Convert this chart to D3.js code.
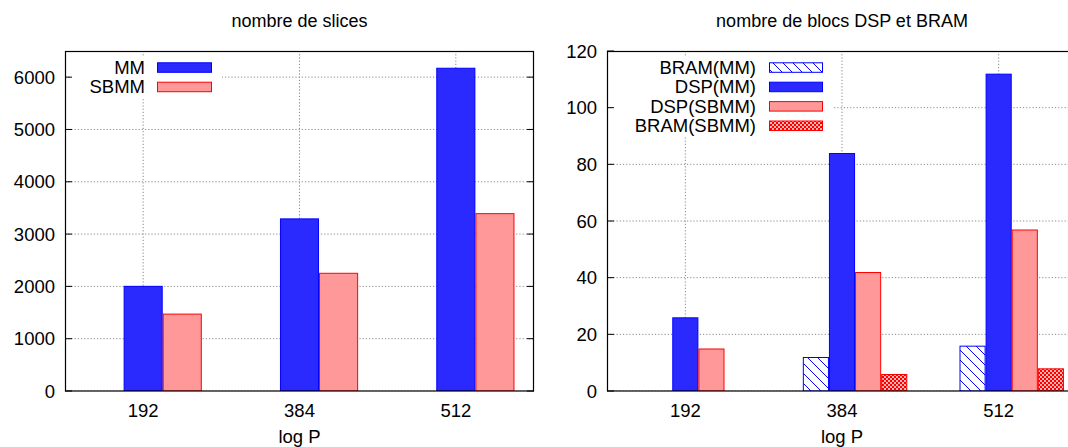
<!DOCTYPE html>
<html><head><meta charset="utf-8">
<script src="https://cdn.jsdelivr.net/npm/d3@7"></script>
<style>
html,body{margin:0;padding:0;background:#fff;}
svg{display:block;font-family:"Liberation Sans",Arial,Helvetica,sans-serif;}
</style></head>
<body>
<svg id="chart" width="1068" height="447"></svg>
<script>
// ---------- data ----------
const categories = ["192", "384", "512"];
const slicesMM = [2010, 3300, 6180];
const slicesSBMM = [1480, 2260, 3400];
const bramMM = [0, 12, 16];
const dspMM = [26, 84, 112];
const dspSBMM = [15, 42, 57];
const bramSBMM = [0, 6, 8];
const leftTicks = [0, 1000, 2000, 3000, 4000, 5000, 6000];
const rightTicks = [0, 20, 40, 60, 80, 100, 120];
const leftTitle = "nombre de slices";
const rightTitle = "nombre de blocs DSP et BRAM";
const xLabel = "log P";

// ---------- drawing ----------
const svg = d3.select("#chart");
const defs = svg.append("defs");
const hatch = defs.append("pattern").attr("id","hatchBlue").attr("patternUnits","userSpaceOnUse")
  .attr("width",10).attr("height",10);
hatch.append("rect").attr("width",10).attr("height",10).attr("fill","#fff");
hatch.append("path").attr("d","M0,0L10,10M-2,8L2,12M8,-2L12,2").attr("stroke","#0000ff").attr("stroke-width",1);
const cross = defs.append("pattern").attr("id","crossRed").attr("patternUnits","userSpaceOnUse")
  .attr("width",4).attr("height",4);
cross.append("rect").attr("width",4).attr("height",4).attr("fill","#ff0000");
cross.append("circle").attr("cx",1).attr("cy",1).attr("r",0.95).attr("fill","#fff");
cross.append("circle").attr("cx",3).attr("cy",3).attr("r",0.95).attr("fill","#fff");

const FS = 18.5;
const blueFill = "#2a2aff", blueStroke = "#0000ff";
const pinkFill = "#ff9999", redStroke = "#ff0000";

function panel(cfg) {
  const x = d3.scaleLinear().domain([-0.5, 2.5]).range([cfg.x0, cfg.x1]);
  const y = d3.scaleLinear().domain(cfg.yDomain).range([391, 51]);
  const g = svg.append("g");
  const clipId = "clip" + cfg.id;
  defs.append("clipPath").attr("id", clipId).append("rect")
    .attr("x", cfg.x0).attr("y", 51).attr("width", cfg.x1 - cfg.x0).attr("height", 340);
  const inner = g.append("g").attr("clip-path", `url(#${clipId})`);

  // grid
  inner.selectAll(".hg").data(cfg.ticks).join("line")
    .attr("x1", cfg.x0).attr("x2", cfg.x1).attr("y1", d => y(d)).attr("y2", d => y(d))
    .attr("stroke", "#8a8a8a").attr("stroke-width", 1).attr("stroke-dasharray", "1.2,2");
  inner.selectAll(".vg").data(categories).join("line")
    .attr("x1", (d,i) => x(i)).attr("x2", (d,i) => x(i)).attr("y1", 51).attr("y2", 391)
    .attr("stroke", "#8a8a8a").attr("stroke-width", 1).attr("stroke-dasharray", "1.2,2");

  // bars
  cfg.series.forEach(s => {
    inner.selectAll(null).data(s.values).join("rect")
      .attr("x", (d,i) => x(i + (s.offset - 0.5) * cfg.bw) + 0.5)
      .attr("width", x(cfg.bw) - x(0) - 1)
      .attr("y", d => y(d) + 0.5)
      .attr("height", d => Math.max(0, y(0) - y(d) - 0.5))
      .attr("fill", s.fill).attr("stroke", s.stroke).attr("stroke-width", 1)
      .style("display", d => d > 0 ? null : "none");
  });

  // legend (opaque key)
  const L = cfg.legend;
  inner.append("rect").attr("x", L.bx0).attr("y", L.by0).attr("width", L.bx1 - L.bx0)
    .attr("height", L.by1 - L.by0).attr("fill", "#fff");
  cfg.series.slice().sort((a,b) => a.legendOrder - b.legendOrder).forEach((s, k) => {
    const cy = L.y0 + k * L.dy;
    g.append("text").attr("x", L.tx).attr("y", cy + 6.6).attr("text-anchor", "end")
      .attr("font-size", FS).attr("fill", "#000").text(s.name);
    g.append("rect").attr("x", L.sx0 + 0.5).attr("y", cy - 5 + 0.5).attr("width", L.sx1 - L.sx0 - 1)
      .attr("height", 9.5).attr("fill", s.fill).attr("stroke", s.stroke).attr("stroke-width", 1);
  });

  // frame
  g.append("rect").attr("x", cfg.x0 + 0.5).attr("y", 51.5).attr("width", cfg.x1 - cfg.x0 - 1)
    .attr("height", 339.5).attr("fill", "none").attr("stroke", "#000").attr("stroke-width", 1.2);

  // y ticks
  cfg.ticks.forEach(t => {
    g.append("line").attr("x1", cfg.x0).attr("x2", cfg.x0 + 7).attr("y1", y(t)).attr("y2", y(t))
      .attr("stroke", "#000").attr("stroke-width", 1);
    g.append("line").attr("x1", cfg.x1 - 7).attr("x2", cfg.x1).attr("y1", y(t)).attr("y2", y(t))
      .attr("stroke", "#000").attr("stroke-width", 1);
    g.append("text").attr("x", cfg.x0 - 10).attr("y", y(t) + 6.6).attr("text-anchor", "end")
      .attr("font-size", FS).attr("fill", "#000").text(t);
  });
  // x tick labels
  categories.forEach((c, i) => {
    g.append("text").attr("x", x(i)).attr("y", 417).attr("text-anchor", "middle")
      .attr("font-size", FS).attr("fill", "#000").text(c);
  });
  // axis label & title
  const cx = (cfg.x0 + cfg.x1) / 2;
  g.append("text").attr("x", cx).attr("y", 443).attr("text-anchor", "middle")
    .attr("font-size", FS).attr("fill", "#000").text(xLabel);
  g.append("text").attr("x", cx).attr("y", 26.5).attr("text-anchor", "middle")
    .attr("font-size", 18).attr("fill", "#000").text(cfg.title);
}

panel({
  id: "L", x0: 65, x1: 534, yDomain: [0, 6500], ticks: leftTicks, bw: 0.25, title: leftTitle,
  series: [
    {name: "MM", values: slicesMM, offset: 0, fill: blueFill, stroke: blueStroke, legendOrder: 0},
    {name: "SBMM", values: slicesSBMM, offset: 1, fill: pinkFill, stroke: redStroke, legendOrder: 1}
  ],
  legend: {bx0: 71, bx1: 222, by0: 57, by1: 97, tx: 145, sx0: 157, sx1: 212, y0: 67.3, dy: 19.4}
});
panel({
  id: "R", x0: 607, x1: 1077, yDomain: [0, 120], ticks: rightTicks, bw: 1/6, title: rightTitle,
  series: [
    {name: "BRAM(MM)", values: bramMM, offset: -1, fill: "url(#hatchBlue)", stroke: blueStroke, legendOrder: 0},
    {name: "DSP(MM)", values: dspMM, offset: 0, fill: blueFill, stroke: blueStroke, legendOrder: 1},
    {name: "DSP(SBMM)", values: dspSBMM, offset: 1, fill: pinkFill, stroke: redStroke, legendOrder: 2},
    {name: "BRAM(SBMM)", values: bramSBMM, offset: 2, fill: "url(#crossRed)", stroke: redStroke, legendOrder: 3}
  ],
  legend: {bx0: 612, bx1: 834, by0: 57, by1: 136, tx: 756, sx0: 769, sx1: 823, y0: 67.3, dy: 19.4}
});
</script>
</body></html>
